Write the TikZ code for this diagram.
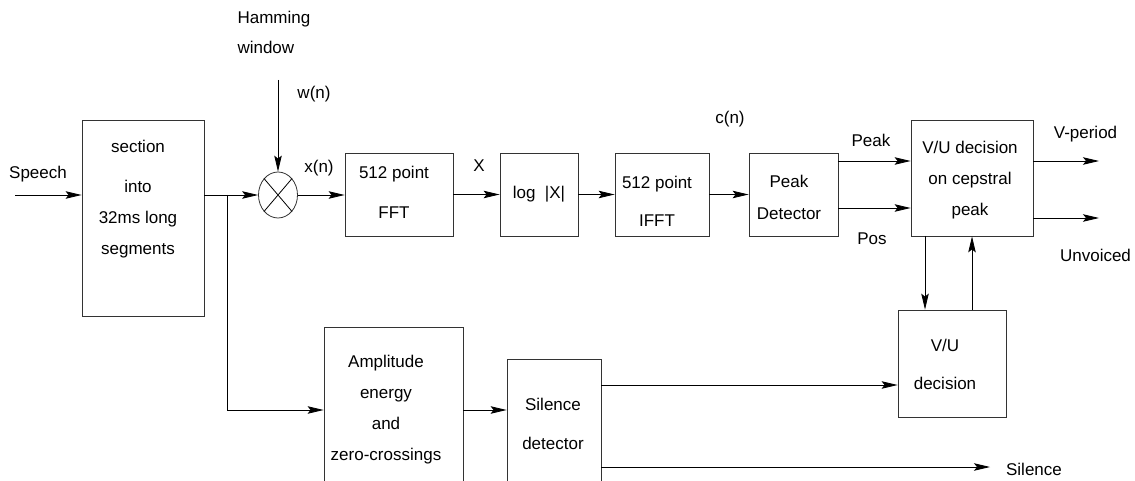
\documentclass[tikz,border=0pt]{standalone}
\usepackage{fontspec}
\setmainfont{Liberation Sans}
\usetikzlibrary{arrows.meta,shapes.geometric}

\tikzset{
  blk/.style={draw=black!80, line width=0.8pt, inner sep=0pt, align=center},
  txt/.style={align=center},
  lbl/.style={inner sep=0pt, text height=12.4pt, text depth=0pt},
  wire/.style={line width=0.8pt},
  arr/.style={wire, -{Stealth[length=16pt,width=7.5pt,inset=3pt]}}
}

\begin{document}
\begin{tikzpicture}[x=1pt,y=-1pt,font=\fontsize{17}{31}\selectfont]
  \useasboundingbox (0,0) rectangle (1135,481);
  \clip (0,0) rectangle (1135,481);

  % Blocks
  \node[blk, minimum width=122pt, minimum height=196pt] (sect) at (143,218) {};
  \node[txt] (secttxt) at (138,199) {section\\[9pt]into\\32ms long\\segments};
  \node[draw=black!80, ellipse, line width=0.8pt, minimum width=39pt, minimum height=46pt, inner sep=0pt] (mult) at (278,195) {};
  \draw[wire] (mult.north west) -- (mult.south east) (mult.north east) -- (mult.south west);
  \node[blk, minimum width=108pt, minimum height=83pt] (fft) at (399,194.5) {};
  \node[txt] (ffttxt) at (394,192) {512 point\\[9pt]FFT};
  \node[blk, minimum width=78pt, minimum height=83pt] (logx) at (539,194.5) {log~~|X|};
  \node[blk, minimum width=94pt, minimum height=83pt] (ifft) at (662,194.5) {};
  \node[txt] (iffttxt) at (657,201) {512 point\\[7pt]IFFT};
  \node[blk, minimum width=89pt, minimum height=83pt] (pkdet) at (793.5,194.5) {};
  \node[txt] (pkdettxt) at (789,197) {Peak\\[1pt]Detector};
  \node[blk, minimum width=122pt, minimum height=116pt] (vuceps) at (972,178) {};
  \node[txt] (vucepstxt) at (970,180) {V/U decision\\on cepstral\\peak};
  \node[blk, minimum width=108pt, minimum height=107pt] (vudec) at (952,363.5) {};
  \node[txt] (vudectxt) at (945,364) {V/U\\[7pt]decision};
  \node[blk, minimum width=139pt, minimum height=166pt] (amp) at (393.5,410) {};
  \node[txt] (amptxt) at (386,410) {Amplitude\\energy\\and\\zero-crossings};
  \node[blk, minimum width=94pt, minimum height=140pt] (sil) at (554,429) {};
  \node[txt] (siltxt) at (553,423.5) {Silence\\[8pt]detector};

  % Labels
  \node[lbl] (speech) at (38,172) {Speech};
  \node[align=left, anchor=west] (ham) at (234,32) {Hamming\\[-1pt]window};
  \node[lbl] (wn) at (314,92) {w(n)};
  \node[lbl] (xn) at (319,166) {x(n)};
  \node[lbl] (xx) at (479,165) {X};
  \node[lbl] (cn) at (730,117) {c(n)};
  \node[lbl] (peak) at (871,140) {Peak};
  \node[lbl] (pos) at (872,238) {Pos};
  \node[lbl] (vper) at (1085.5,132) {V-period};
  \node[lbl] (unv) at (1095.5,255) {Unvoiced};
  \node[lbl] (silout) at (1034,469) {Silence};

  % Coordinates
  \coordinate (in) at (15,195);
  \coordinate (br) at (227,195);
  \coordinate (wtop) at (278,80);
  \coordinate (pkhi) at (838,161);
  \coordinate (pklo) at (838,208);
  \coordinate (vpend) at (1099,161);
  \coordinate (uvend) at (1099,218);
  \coordinate (dnx) at (925,236);
  \coordinate (svhi) at (601,385);
  \coordinate (svlo) at (601,467);
  \coordinate (silend) at (990,467);

  % Edges
  \draw[arr] (in) -- (in -| sect.west);
  \draw[arr] (sect.east |- mult) -- (mult.west);
  \draw[arr] (br) |- (amp.west);
  \draw[arr] (wtop) -- (mult.north);
  \draw[arr] (mult.east) -- (mult.east -| fft.west);
  \draw[arr] (fft.east) -- (logx.west);
  \draw[arr] (logx.east) -- (ifft.west);
  \draw[arr] (ifft.east) -- (pkdet.west);
  \draw[arr] (pkhi) -- (pkhi -| vuceps.west);
  \draw[arr] (pklo) -- (pklo -| vuceps.west);
  \draw[arr] (vuceps.east |- vpend) -- (vpend);
  \draw[arr] (vuceps.east |- uvend) -- (uvend);
  \draw[arr] (dnx) -- (dnx |- vudec.north);
  \draw[arr] (vudec.north -| vuceps.south) -- (vuceps.south);
  \draw[arr] (amp.east) -- (amp.east -| sil.west);
  \draw[arr] (svhi) -- (svhi -| vudec.west);
  \draw[arr] (svlo) -- (silend);
\end{tikzpicture}
\end{document}
